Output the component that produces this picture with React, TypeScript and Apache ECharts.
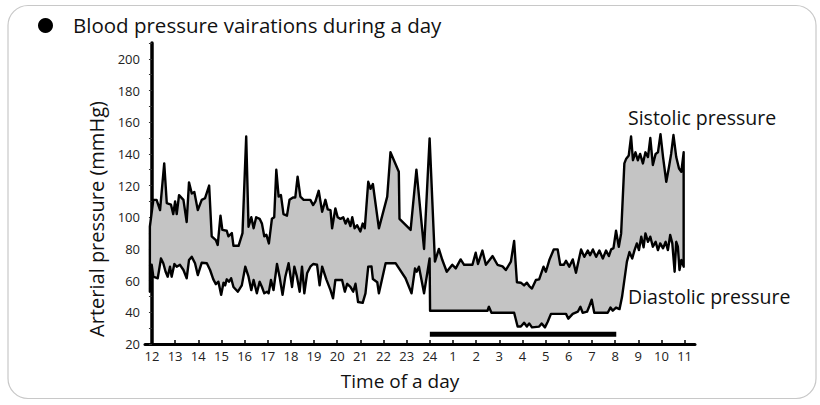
import React, { useEffect, useRef } from "react";
import * as echarts from "echarts";

// hours counted from noon (0 = 12 h, 12 = 24 h, 23 = 11 h)
const hourLabels = ["12", "13", "14", "15", "16", "17", "18", "19", "20", "21", "22", "23", "24", "1", "2", "3", "4", "5", "6", "7", "8", "9", "10", "11"];
const hourTicks = [0, 1, 2, 3, 4, 5, 6, 7, 8, 9, 10, 11, 12, 13, 14, 15, 16, 17, 18, 19, 20, 21, 22, 23];
const yLabelValues = [20, 40, 60, 80, 100, 120, 140, 160, 180, 200];
const yTickValues = [20, 30, 40, 50, 60, 70, 80, 90, 100, 110, 120, 130, 140, 150, 160, 170, 180, 190, 200, 210];

const systolic: [number, number][] = [
  [-0.09, 94], [0.06, 111], [0.2, 111], [0.35, 104.5], [0.53, 134], [0.64, 109], [0.82, 108], [0.92, 102], [1.0, 110],
  [1.07, 102], [1.17, 114], [1.36, 111], [1.5, 97], [1.6, 122], [1.72, 115], [1.83, 116], [1.98, 104.5], [2.15, 111],
  [2.29, 112], [2.47, 120], [2.58, 88], [2.76, 85.6], [2.84, 82.5], [2.96, 101], [3.04, 92], [3.23, 91.5], [3.3, 88],
  [3.45, 90], [3.52, 82], [3.74, 82], [3.91, 90], [4.07, 151], [4.17, 94], [4.29, 100], [4.39, 93], [4.5, 100],
  [4.65, 99], [4.75, 96], [4.85, 88], [4.94, 89], [5.05, 83.5], [5.18, 99], [5.28, 100], [5.37, 130], [5.47, 113],
  [5.57, 114], [5.68, 102], [5.83, 101], [5.94, 111], [6.09, 112.5], [6.19, 112.5], [6.29, 125.6], [6.41, 113],
  [6.55, 111], [6.7, 111], [6.84, 111], [6.96, 107.7], [7.06, 110], [7.2, 116.7], [7.35, 103.5], [7.49, 111],
  [7.59, 105], [7.71, 104.5], [7.78, 93], [7.92, 105.6], [8.02, 100], [8.14, 99], [8.26, 100], [8.36, 96], [8.46, 99],
  [8.57, 94.4], [8.65, 100], [8.75, 93], [8.86, 95], [9.0, 91], [9.1, 96], [9.19, 93], [9.34, 122.4], [9.44, 118],
  [9.54, 121], [9.8, 93], [10.16, 113], [10.3, 141], [10.66, 128.7], [10.69, 99], [11.17, 92], [11.42, 130],
  [11.75, 80], [11.99, 149.8], [12.22, 72], [12.39, 80], [12.54, 73], [12.73, 65.6], [12.97, 70], [13.12, 67.7],
  [13.33, 73.4], [13.48, 70], [13.84, 70], [13.98, 77.6], [14.08, 70.5], [14.27, 79], [14.42, 70], [14.71, 75.5],
  [14.92, 70], [15.14, 69], [15.28, 66.7], [15.5, 72], [15.64, 85], [15.76, 59], [15.93, 58.7], [16.07, 57],
  [16.19, 58.7], [16.29, 56.6], [16.41, 55], [16.58, 60.4], [16.72, 60.8], [16.91, 68.8], [17.01, 65.6], [17.16, 73],
  [17.35, 79.7], [17.52, 79.7], [17.63, 70], [17.78, 70], [17.88, 72.5], [18.02, 68.8], [18.17, 73.4], [18.31, 65],
  [18.53, 79.7], [18.67, 75], [18.82, 79], [18.92, 76], [19.04, 79.7], [19.18, 75], [19.32, 79], [19.47, 74],
  [19.61, 79], [19.73, 75.5], [19.83, 79.7], [19.93, 80.5], [20.04, 91.5], [20.16, 81.4], [20.26, 89.8], [20.4, 134],
  [20.48, 137], [20.59, 139], [20.69, 151], [20.77, 136], [20.88, 141], [20.98, 136], [21.08, 140], [21.2, 134],
  [21.31, 141], [21.42, 138], [21.52, 150], [21.63, 133], [21.75, 140], [21.85, 141], [21.96, 152.5], [22.07, 138],
  [22.21, 122.4], [22.33, 132], [22.42, 140], [22.52, 151.9], [22.64, 138], [22.76, 130.8], [22.86, 128.7], [22.96, 141]
];

const diastolic: [number, number][] = [
  [-0.09, 53], [-0.01, 70], [0.06, 62.5], [0.25, 61.5], [0.39, 74], [0.49, 71], [0.59, 65.6], [0.68, 62.5], [0.78, 68.8],
  [0.85, 62.5], [0.97, 70.5], [1.07, 68.8], [1.21, 70], [1.36, 66.7], [1.5, 61.5], [1.6, 73], [1.72, 75], [1.86, 71],
  [1.98, 63.5], [2.15, 71.3], [2.37, 71], [2.51, 66.7], [2.65, 60.8], [2.76, 57.8], [2.87, 59.3], [2.99, 51],
  [3.09, 58.7], [3.16, 57], [3.23, 60.8], [3.33, 59.3], [3.42, 61.5], [3.52, 56], [3.71, 53], [3.88, 57], [4.03, 68.8],
  [4.17, 62.5], [4.29, 54], [4.39, 60.4], [4.53, 52], [4.65, 59.3], [4.75, 56], [4.85, 52], [4.97, 53], [5.04, 52],
  [5.14, 60.4], [5.25, 54], [5.4, 70.5], [5.51, 62.5], [5.64, 51], [5.76, 62.5], [5.9, 71], [6.05, 56], [6.15, 68.8],
  [6.26, 62.5], [6.38, 53], [6.48, 68.8], [6.58, 52], [6.7, 64.6], [6.84, 68.8], [6.96, 70.5], [7.13, 70], [7.24, 57],
  [7.35, 68.8], [7.53, 60.8], [7.71, 54], [7.82, 48.8], [7.92, 60.4], [8.21, 60.4], [8.33, 53], [8.43, 58], [8.57, 56],
  [8.69, 53], [8.79, 58], [8.9, 46.5], [9.1, 46], [9.22, 52], [9.34, 68.8], [9.48, 69], [9.54, 61], [9.73, 59],
  [9.8, 52], [10.09, 71], [10.52, 71], [10.95, 61.5], [11.21, 52], [11.36, 67.7], [11.43, 65.6], [11.53, 68.8],
  [11.75, 52], [11.99, 74], [12.01, 41], [14.49, 41], [14.55, 43.5], [14.66, 39.7], [15.64, 39.7], [15.79, 31],
  [15.93, 31], [16.07, 33.4], [16.19, 31], [16.29, 33], [16.41, 30.5], [16.72, 31], [16.83, 33], [16.97, 30.5],
  [17.09, 34], [17.23, 39], [17.88, 39], [17.98, 36], [18.17, 39], [18.39, 40.4], [18.5, 43.5], [18.6, 39.7],
  [18.79, 40.4], [18.89, 44], [18.99, 48], [19.1, 39.7], [19.68, 39.7], [19.8, 43], [19.9, 41], [20.04, 43],
  [20.19, 42], [20.3, 49.8], [20.51, 72], [20.62, 78], [20.74, 74], [20.84, 79.3], [20.94, 83.5], [21.03, 79.3],
  [21.13, 87.7], [21.23, 81], [21.31, 89.8], [21.42, 84.5], [21.52, 87.7], [21.63, 81.4], [21.75, 84.5], [21.85, 79.3],
  [21.95, 83.5], [22.07, 80.4], [22.18, 84.5], [22.28, 79.3], [22.38, 88.8], [22.47, 83.5], [22.57, 65.6],
  [22.64, 84.5], [22.71, 81.4], [22.78, 66.7], [22.86, 73], [22.96, 68.8]
];

// night (sleep) period bar, from 24 h to 8 h
const sleepBar: [number, number][] = [[12, 26.2], [20.05, 26.2]];

const FONT = '"Open Sans", "Noto Sans", sans-serif';

export default function App() {
  const ref = useRef<HTMLDivElement>(null);

  useEffect(() => {
    if (!ref.current) return;
    const chart = echarts.init(ref.current, undefined, { renderer: "svg" });
    const outline = [...systolic, ...diastolic.slice().reverse()];

    chart.setOption({
      animation: false,
      backgroundColor: "#ffffff",
      grid: { left: 145, right: 125, top: 43, bottom: 61 },
      xAxis: {
        type: "value",
        min: -0.3,
        max: 23.45,
        axisLine: { show: true, lineStyle: { color: "#000", width: 3 } },
        axisTick: { show: true, customValues: hourTicks, inside: true, length: 4, lineStyle: { color: "#000", width: 1.5 } },
        axisLabel: {
          customValues: hourTicks,
          formatter: (v: number) => hourLabels[Math.round(v)] ?? "",
          color: "#222",
          fontSize: 13,
          fontFamily: FONT,
          margin: 5,
        },
        splitLine: { show: false },
      },
      yAxis: {
        type: "value",
        min: 20,
        max: 210,
        axisLine: { show: true, lineStyle: { color: "#000", width: 3.5 } },
        axisTick: { show: true, customValues: yTickValues, length: 3, lineStyle: { color: "#333", width: 1 } },
        axisLabel: {
          customValues: yLabelValues,
          color: "#222",
          fontSize: 13,
          fontFamily: FONT,
          margin: 5,
        },
        splitLine: { show: false },
      },
      series: [
        {
          type: "custom",
          coordinateSystem: "cartesian2d",
          data: [[10, 100]],
          encode: { x: 0, y: 1 },
          silent: true,
          clip: false,
          z: 2,
          renderItem: (_params: any, api: any) => ({
            type: "polygon",
            shape: { points: outline.map((p) => api.coord(p)) },
            style: { fill: "#c4c4c4", stroke: "#000", lineWidth: 2.4, lineJoin: "round" },
          }),
        },
        {
          type: "line",
          data: sleepBar,
          symbol: "none",
          silent: true,
          z: 3,
          lineStyle: { color: "#000", width: 5, cap: "butt" },
        },
      ],
      graphic: [
        {
          type: "rect",
          shape: { x: 8, y: 5.5, width: 808, height: 393, r: 20 },
          style: { fill: "none", stroke: "#c8c8c8", lineWidth: 1.2 },
          silent: true,
        },
        { type: "circle", shape: { cx: 45.5, cy: 25.5, r: 7.5 }, style: { fill: "#000" } },
        {
          type: "text",
          x: 73,
          y: 25,
          style: { text: "Blood pressure vairations during a day", font: `20.5px ${FONT}`, fill: "#111", textVerticalAlign: "middle" },
        },
        {
          type: "text",
          x: 96,
          y: 219,
          rotation: Math.PI / 2,
          style: { text: "Arterial pressure (mmHg)", font: `20px ${FONT}`, fill: "#111", textAlign: "center", textVerticalAlign: "middle" },
        },
        {
          type: "text",
          x: 400,
          y: 381,
          style: { text: "Time of a day", font: `19px ${FONT}`, fill: "#111", textAlign: "center", textVerticalAlign: "middle" },
        },
        {
          type: "text",
          x: 628,
          y: 117,
          style: { text: "Sistolic pressure", font: `19.5px ${FONT}`, fill: "#111", textVerticalAlign: "middle" },
        },
        {
          type: "text",
          x: 628,
          y: 296,
          style: { text: "Diastolic pressure", font: `19.5px ${FONT}`, fill: "#111", textVerticalAlign: "middle" },
        },
      ],
    });

    return () => chart.dispose();
  }, []);

  return <div ref={ref} style={{ position: "absolute", left: 0, top: 0, width: 820, height: 405 }} />;
}
